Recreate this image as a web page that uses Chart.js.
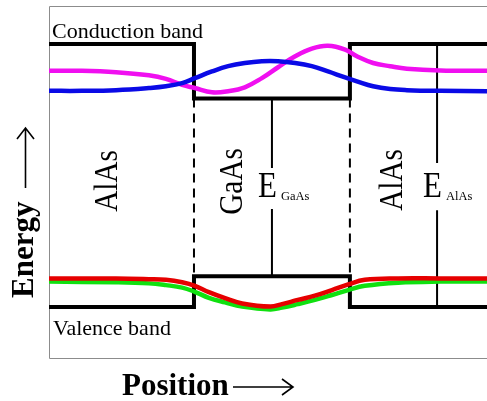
<!DOCTYPE html>
<html>
<head>
    <meta charset="UTF-8">
    <title>AlAs / GaAs quantum well</title>
    <script src="https://cdn.jsdelivr.net/npm/chart.js"></script>
    <style>
        body {
            margin: 0;
            padding: 0;
            background-color: #FFFFFF;
        }

        .chart-container {
            position: relative;
            width: 487px;
            height: 401px;
        }
    </style>
</head>
<body>
<div class="chart-container">
    <canvas id="well-chart"></canvas>
</div>

<script>
    // Position and energy in arbitrary units (0..100 across the frame)
    const bandX = [0, 33.1, 33.1, 68.7, 68.7, 100];
    const conductionEdge = [89.2, 89.2, 73.7, 73.7, 89.2, 89.2];
    const valenceEdge = [14.5, 14.5, 23.2, 23.2, 14.5, 14.5];

    // Interfaces (dashed) between the GaAs band edges
    const interfaceX = [33.1, 68.7];

    // Gap markers: x, top, bottom, label gap (top, bottom)
    const gapGaAs = [50.9, 73.7, 23.2, 54.0, 42.3];
    const gapAlAs = [88.6, 89.2, 14.5, 55.4, 42.0];

    // Conduction band wavefunctions
    const cbX = [0, 7.5, 15.3, 22.8, 26.7, 30.4, 33.3, 37.2, 40.9, 44.7, 48.6, 52.3,
                 56.2, 60.0, 63.7, 67.6, 70.3, 74.0, 77.9, 81.7, 89.3, 100];
    const blueCB = [75.9, 75.9, 76.1, 76.7, 77.2, 78.1, 79.5, 81.4, 82.9, 83.8, 84.3, 84.3,
                    83.8, 82.9, 81.4, 79.7, 78.6, 77.2, 76.4, 76.1, 75.9, 75.8];
    const magentaCB = [81.6, 81.6, 81.2, 80.3, 79.3, 77.6, 76.7, 75.5, 75.8, 76.9, 79.5, 82.6,
                       85.7, 87.9, 88.7, 87.6, 85.7, 83.8, 82.9, 82.2, 81.7, 81.6];

    // Valence band wavefunctions
    const vbX = [0, 15.3, 22.8, 26.7, 30.4, 33.3, 36.5, 40.2, 44.1, 50.5, 53.2, 56.8,
                 60.7, 64.6, 68.3, 72.1, 79.7, 89.3, 100];
    const redVB = [22.6, 22.6, 22.4, 22.2, 21.5, 20.5, 18.7, 17.0, 15.5, 14.6, 15.3, 16.5,
                   17.7, 19.3, 20.9, 22.2, 22.6, 22.6, 22.6];
    const greenVB = [21.7, 21.5, 21.2, 20.7, 20.0, 18.8, 17.1, 15.8, 14.6, 13.8, 14.3, 15.3,
                     16.5, 17.9, 19.3, 20.5, 21.4, 21.7, 21.7];

    const layerNames = ['AlAs', 'GaAs', 'AlAs'];
    const bandNames = ['Conduction band', 'Valence band'];
    const axisNames = ['Energy', 'Position'];

    function points(xs, ys) {
        return xs.map((x, i) => ({ x: x, y: ys[i] }));
    }

    function gapLine(g) {
        return [
            { x: g[0], y: g[1] }, { x: g[0], y: g[3] },
            { x: g[0], y: null },
            { x: g[0], y: g[4] }, { x: g[0], y: g[2] }
        ];
    }

    function curve(data, color) {
        return {
            data: data,
            borderColor: color,
            borderWidth: 4.5,
            tension: 0.4,
            pointRadius: 0,
            order: 0
        };
    }

    function blackLine(data, width, dash) {
        return {
            data: data,
            borderColor: '#000000',
            borderWidth: width,
            borderDash: dash || [],
            borderJoinStyle: 'miter',
            tension: 0,
            pointRadius: 0,
            spanGaps: false,
            order: 1
        };
    }

    // Frame, texts and arrows
    const decorations = {
        id: 'decorations',
        beforeDatasetsDraw(chart) {
            const ctx = chart.ctx;
            const a = chart.chartArea;
            ctx.save();
            ctx.strokeStyle = '#8c8c8c';
            ctx.lineWidth = 1;
            ctx.beginPath();
            ctx.moveTo(a.right + 1, a.top + 0.5);
            ctx.lineTo(a.left + 0.5, a.top + 0.5);
            ctx.lineTo(a.left + 0.5, a.bottom + 0.5);
            ctx.lineTo(a.right + 1, a.bottom + 0.5);
            ctx.stroke();
            ctx.restore();
        },
        afterDraw(chart) {
            const ctx = chart.ctx;
            const xs = chart.scales.x;
            ctx.save();
            ctx.fillStyle = '#000000';
            ctx.strokeStyle = '#000000';

            // band names
            ctx.font = '22px "Liberation Serif", serif';
            ctx.textAlign = 'left';
            ctx.textBaseline = 'alphabetic';
            ctx.fillText(bandNames[0], 52, 38);
            ctx.fillText(bandNames[1], 53, 335);

            // rotated layer names
            const layerPos = [[117, 181], [242, 181.5], [402, 180]];
            layerNames.forEach((name, i) => {
                ctx.save();
                ctx.translate(layerPos[i][0], layerPos[i][1]);
                ctx.rotate(-Math.PI / 2);
                ctx.scale(0.86, 1);
                ctx.font = '34px "Liberation Serif", serif';
                ctx.textAlign = 'center';
                ctx.fillText(name, 0, 0);
                ctx.restore();
            });

            // gap labels
            [[gapGaAs, 'GaAs'], [gapAlAs, 'AlAs']].forEach(([g, sub]) => {
                const px = xs.getPixelForValue(g[0]);
                ctx.save();
                ctx.translate(px - 14, 197);
                ctx.scale(0.86, 1);
                ctx.font = '36px "Liberation Serif", serif';
                ctx.textAlign = 'left';
                ctx.fillText('E', 0, 0);
                ctx.restore();
                ctx.font = '12.5px "Liberation Serif", serif';
                ctx.fillText(sub, px + 9, 200);
            });

            // axis names
            ctx.font = 'bold 31px "Liberation Serif", serif';
            ctx.textAlign = 'left';
            ctx.fillText(axisNames[1], 122, 395);
            ctx.save();
            ctx.translate(33, 298);
            ctx.rotate(-Math.PI / 2);
            ctx.fillText(axisNames[0], 0, 0);
            ctx.restore();

            // arrows
            ctx.lineWidth = 1.6;
            ctx.beginPath();
            ctx.moveTo(25.5, 188);
            ctx.lineTo(25.5, 128);
            ctx.moveTo(17, 139);
            ctx.lineTo(25.5, 128);
            ctx.lineTo(34, 139);
            ctx.moveTo(233, 387);
            ctx.lineTo(293, 387);
            ctx.moveTo(282, 379);
            ctx.lineTo(293, 387);
            ctx.lineTo(282, 395);
            ctx.stroke();
            ctx.restore();
        }
    };

    const datasets = [
        curve(points(cbX, blueCB), '#0a0ae6'),
        curve(points(cbX, magentaCB), '#f00ff0'),
        curve(points(vbX, redVB), '#e60000'),
        curve(points(vbX, greenVB), '#10e010'),
        blackLine(points(bandX, conductionEdge), 4),
        blackLine(points(bandX, valenceEdge), 4),
        blackLine(gapLine(gapGaAs), 2),
        blackLine(gapLine(gapAlAs), 2)
    ];
    interfaceX.forEach(x => {
        datasets.push(blackLine([{ x: x, y: conductionEdge[2] }, { x: x, y: valenceEdge[2] }], 2, [9, 6]));
    });

    new Chart(document.getElementById('well-chart').getContext('2d'), {
        type: 'line',
        data: { datasets: datasets },
        options: {
            responsive: true,
            maintainAspectRatio: false,
            animation: false,
            layout: { padding: { left: 49, top: 6, right: 0, bottom: 43 } },
            plugins: {
                legend: { display: false },
                tooltip: { enabled: false }
            },
            scales: {
                x: { type: 'linear', min: 0, max: 100, display: false },
                y: { type: 'linear', min: 0, max: 100, display: false }
            }
        },
        plugins: [decorations]
    });
</script>
</body>
</html>
